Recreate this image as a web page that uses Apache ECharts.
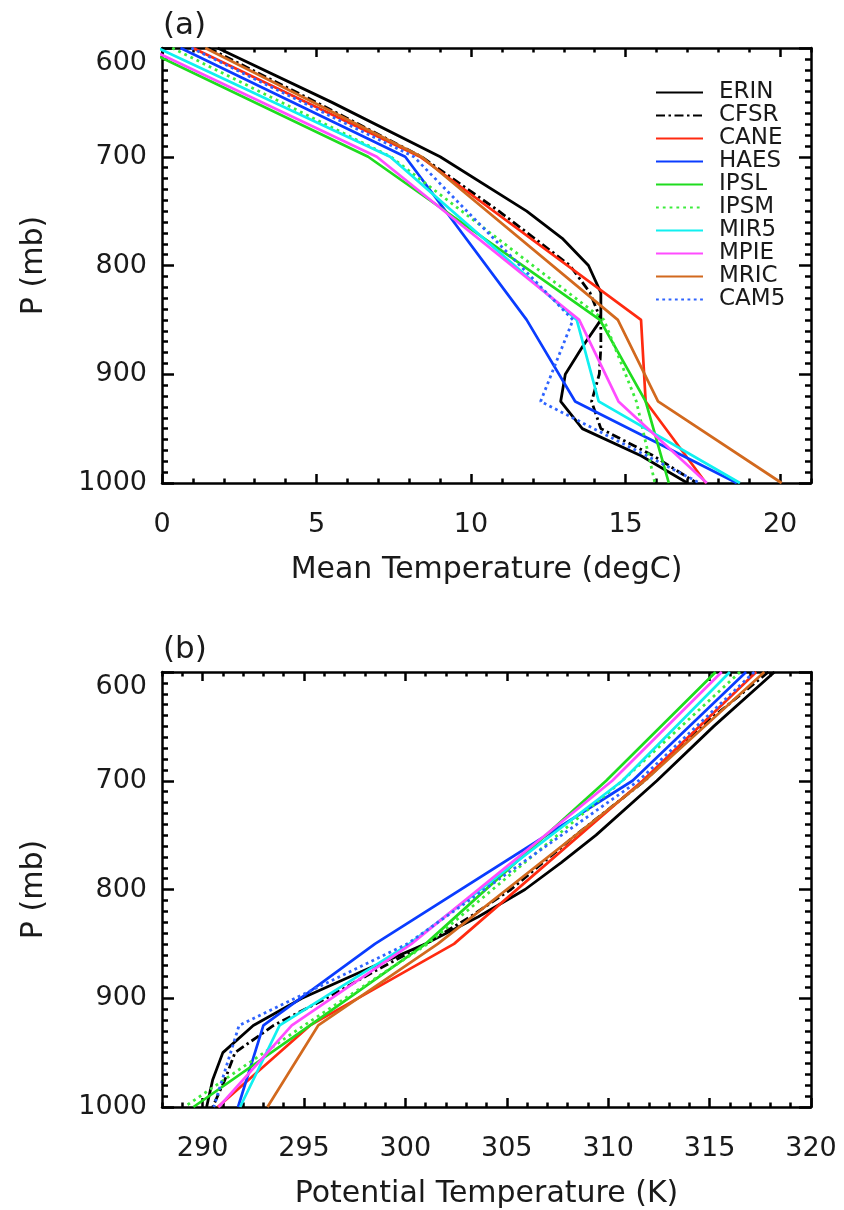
<!DOCTYPE html>
<html>
<head>
<meta charset="utf-8">
<script src="https://cdn.jsdelivr.net/npm/echarts@6/dist/echarts.min.js"></script>
<style>
html,body{margin:0;padding:0;background:#fff;}
#chart{width:844px;height:1210px;}
</style>
</head>
<body>
<div id="chart"></div>
<script>
// ---------- data ----------
const names = ['ERIN','CFSR','CANE','HAES','IPSL','IPSM','MIR5','MPIE','MRIC','CAM5'];

// pressure levels (mb)
const P_ERIN  = [600,650,700,750,775,800,825,850,875,900,925,950,975,1000];
const P_CFSR  = [600,650,700,750,800,825,850,875,900,925,950,975,1000];
const P_MODEL = [600,700,850,925,1000];

// (a) mean temperature (degC)
const T_ERIN = [1.8,5.5,9.0,11.8,12.95,13.8,14.2,14.2,13.6,13.05,12.9,13.6,15.5,17.0];
const T_CFSR = [1.5,5.0,8.4,10.9,13.2,13.85,14.2,14.2,14.15,13.9,14.2,15.9,17.3];
const T_CANE = [1.0,8.35,15.5,15.65,17.6];
const T_HAES = [0.6,7.87,11.8,13.37,18.6];
const T_IPSL = [-0.68,6.67,14.17,15.65,16.4];
const T_IPSM = [0.33,7.4,14.3,15.35,15.95];
const T_MIR5 = [-0.14,7.38,13.42,14.13,18.7];
const T_MPIE = [-0.47,6.95,13.5,14.77,17.63];
const T_MRIC = [1.4,8.4,14.75,16.05,20.05];
const T_CAM5 = [0.95,8.15,13.3,12.25,17.4];

// (b) potential temperature (K)
const TH_ERIN = [318.2,315.2,312.4,309.4,307.7,305.9,303.6,301.0,297.9,294.9,292.5,291.0,290.5,290.2];
const TH_CFSR = [317.9,314.6,311.8,308.4,305.2,303.2,301.0,298.5,296.1,293.5,291.6,291.1,290.5];
const TH_CANE = [317.3,311.7,302.4,295.3,290.75];
const TH_HAES = [316.8,311.2,298.5,293.0,291.75];
const TH_IPSL = [315.3,309.9,301.0,295.3,289.55];
const TH_IPSM = [316.5,310.7,301.1,295.0,289.1];
const TH_MIR5 = [316.0,310.7,300.2,293.8,291.85];
const TH_MPIE = [315.6,310.2,300.3,294.4,290.8];
const TH_MRIC = [317.7,311.8,301.6,295.7,293.2];
const TH_CAM5 = [317.2,311.5,300.1,291.8,290.55];

// tick labels
const xTicksA = [0,5,10,15,20];
const xTicksB = [290,295,300,305,310,315,320];
const yTicks  = [600,700,800,900,1000];

// ---------- styles ----------
const FONT = 'DejaVu Sans';
const TXT = '#1a1a1a';
const AXW = 2.5;
const styleOf = {
  ERIN: {color:'#000000', type:'solid', width:2.8},
  CFSR: {color:'#000000', type:[9,3.5,2.5,3.5], width:2.8},
  CANE: {color:'#ff2a10', type:'solid', width:2.7},
  HAES: {color:'#0a3cff', type:'solid', width:2.7},
  IPSL: {color:'#1fdc1f', type:'solid', width:2.7},
  IPSM: {color:'#3cec3c', type:[2.8,4], width:2.8},
  MIR5: {color:'#10f0f0', type:'solid', width:2.7},
  MPIE: {color:'#ff4cff', type:'solid', width:2.7},
  MRIC: {color:'#d2691e', type:'solid', width:2.7},
  CAM5: {color:'#2f64ff', type:[2.8,3.5], width:2.8}
};
const levels = {ERIN:P_ERIN, CFSR:P_CFSR};
const tempA = {ERIN:T_ERIN,CFSR:T_CFSR,CANE:T_CANE,HAES:T_HAES,IPSL:T_IPSL,IPSM:T_IPSM,MIR5:T_MIR5,MPIE:T_MPIE,MRIC:T_MRIC,CAM5:T_CAM5};
const thetaB = {ERIN:TH_ERIN,CFSR:TH_CFSR,CANE:TH_CANE,HAES:TH_HAES,IPSL:TH_IPSL,IPSM:TH_IPSM,MIR5:TH_MIR5,MPIE:TH_MPIE,MRIC:TH_MRIC,CAM5:TH_CAM5};

function pairs(xs, ps){ return xs.map((v,i)=>[v, ps[i]]); }

// ---------- axes ----------
function xAxes(gridIndex, min, max, majors, name){
  const base = {type:'value', gridIndex, min, max, splitLine:{show:false}};
  return [
    Object.assign({}, base, {
      position:'bottom',
      axisLine:{show:true, onZero:false, lineStyle:{color:'#000', width:AXW}},
      axisTick:{show:true, inside:true, length:9, customValues:majors, lineStyle:{color:'#000', width:AXW}},
      axisLabel:{show:true, customValues:majors, margin:28, fontSize:27, fontFamily:FONT, color:TXT},
      name:name, nameLocation:'middle', nameGap:72,
      nameTextStyle:{fontSize:30, fontFamily:FONT, color:TXT}
    }),
    Object.assign({}, base, {
      position:'bottom', interval:1,
      axisLine:{show:false, onZero:false},
      axisTick:{show:true, inside:true, length:4.5, lineStyle:{color:'#000', width:AXW}},
      axisLabel:{show:false}
    }),
    Object.assign({}, base, {
      position:'top',
      axisLine:{show:true, onZero:false, lineStyle:{color:'#000', width:AXW}},
      axisTick:{show:true, inside:true, length:9, customValues:majors, lineStyle:{color:'#000', width:AXW}},
      axisLabel:{show:false}
    }),
    Object.assign({}, base, {
      position:'top', interval:1,
      axisLine:{show:false, onZero:false},
      axisTick:{show:true, inside:true, length:4.5, lineStyle:{color:'#000', width:AXW}},
      axisLabel:{show:false}
    })
  ];
}
function yAxes(gridIndex){
  const base = {type:'value', gridIndex, inverse:true, min:600, max:1000, interval:100,
    splitLine:{show:false},
    axisLine:{show:true, onZero:false, lineStyle:{color:'#000', width:AXW}},
    axisTick:{show:true, inside:true, length:12, lineStyle:{color:'#000', width:AXW}},
    minorTick:{show:true, splitNumber:10, length:6, lineStyle:{color:'#000', width:AXW}},
    minorSplitLine:{show:false}};
  return [
    Object.assign({}, base, {
      position:'left',
      axisLabel:{show:true, margin:15, fontSize:27, fontFamily:FONT, color:TXT,
        formatter: v => v === yTicks[0] ? '{lo|' + v + '}' : String(v),
        rich:{lo:{padding:[30,0,0,0], fontSize:27, fontFamily:FONT, color:TXT}}},
      name:'P (mb)', nameLocation:'middle', nameGap:113, nameRotate:90,
      nameTextStyle:{fontSize:30, fontFamily:FONT, color:TXT}
    }),
    Object.assign({}, base, {position:'right', axisLabel:{show:false}})
  ];
}

const series = [];
names.forEach(n => {
  const P = levels[n] || P_MODEL;
  const s = styleOf[n];
  const common = {type:'line', name:n, symbol:'none', clip:true, animation:false,
    lineStyle:{color:s.color, type:s.type, width:s.width, cap:'butt'},
    itemStyle:{color:s.color}, emphasis:{disabled:true}};
  series.push(Object.assign({}, common, {xAxisIndex:0, yAxisIndex:0, data:pairs(tempA[n], P)}));
  series.push(Object.assign({}, common, {xAxisIndex:4, yAxisIndex:2, data:pairs(thetaB[n], P)}));
});

const option = {
  backgroundColor:'#ffffff',
  animation:false,
  title:[
    {text:'(a)', left:158, top:5, textStyle:{fontSize:31, fontWeight:'normal', fontFamily:FONT, color:TXT}},
    {text:'(b)', left:158, top:629, textStyle:{fontSize:31, fontWeight:'normal', fontFamily:FONT, color:TXT}}
  ],
  grid:[
    {left:162, top:48, width:649, height:435, outerBoundsMode:'none'},
    {left:162, top:672, width:649, height:435, outerBoundsMode:'none'}
  ],
  xAxis: xAxes(0, 0, 21, xTicksA, 'Mean Temperature (degC)')
          .concat(xAxes(1, 288, 320, xTicksB, 'Potential Temperature (K)')),
  yAxis: yAxes(0).concat(yAxes(1)),
  legend:{
    orient:'vertical', left:655, top:81, padding:0,
    itemWidth:47, itemHeight:14, itemGap:0,
    selectedMode:false,
    data:names,
    itemStyle:{opacity:0},
    textStyle:{fontSize:23, fontFamily:FONT, color:TXT, lineHeight:21.7, padding:[0,0,0,11]}
  },
  series: series
};

const chart = echarts.init(document.getElementById('chart'), null, {renderer:'canvas'});
chart.setOption(option);
</script>
</body>
</html>
